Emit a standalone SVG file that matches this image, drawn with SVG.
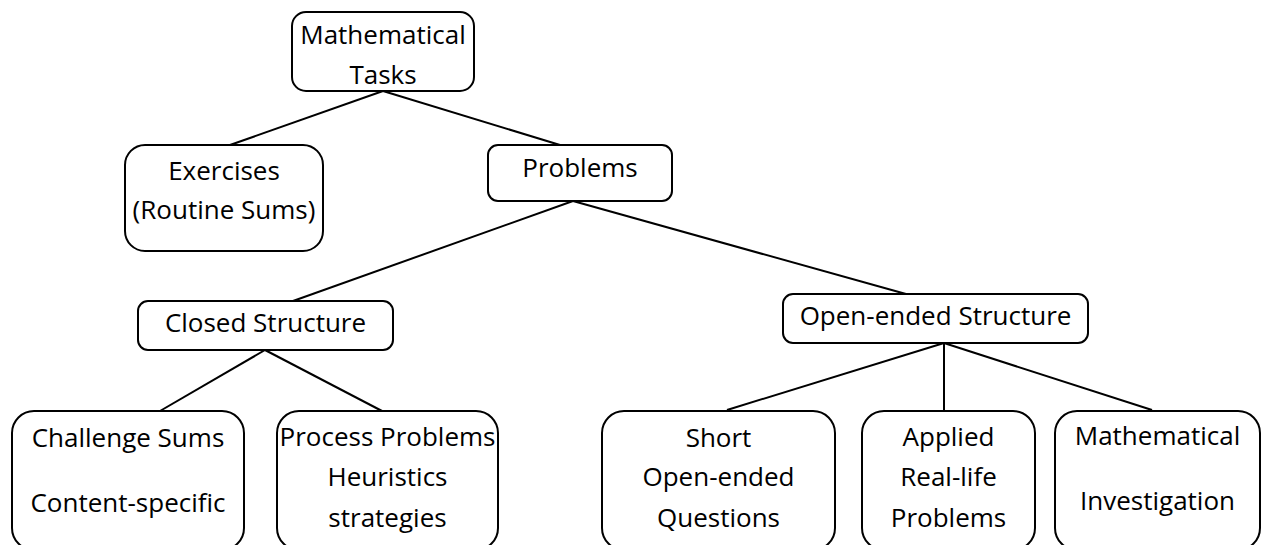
<svg xmlns="http://www.w3.org/2000/svg" width="1262" height="545" viewBox="0 0 1262 545">
  <style>
    .box { fill: #ffffff; stroke: #000000; stroke-width: 2; }
    .edge { stroke: #000000; stroke-width: 2; fill: none; }
    .lbl { font-family: "Open Sans", "Noto Sans", sans-serif; font-size: 26px; fill: #000000; text-anchor: middle; }
  </style>
  <rect width="1262" height="545" fill="#ffffff"/>

  <!-- connectors -->
  <g id="connectors">
    <line class="edge" x1="383" y1="91" x2="230" y2="145"/>
    <line class="edge" x1="383" y1="91" x2="560" y2="145"/>
    <line class="edge" x1="573" y1="201" x2="293" y2="301"/>
    <line class="edge" x1="573" y1="201" x2="906" y2="294"/>
    <line class="edge" x1="265" y1="350" x2="160" y2="411"/>
    <line class="edge" x1="265" y1="350" x2="382" y2="411"/>
    <line class="edge" x1="944" y1="343" x2="727" y2="410"/>
    <line class="edge" x1="944" y1="343" x2="944" y2="411"/>
    <line class="edge" x1="944" y1="343" x2="1152" y2="410"/>
  </g>

  <g id="mathematical-tasks">
    <rect class="box" x="292" y="12" width="182" height="79" rx="14"/>
    <text class="lbl" x="383" y="44">Mathematical</text>
    <text class="lbl" x="383" y="84">Tasks</text>
  </g>

  <g id="exercises">
    <rect class="box" x="125" y="145" width="198" height="106" rx="20"/>
    <text class="lbl" x="224" y="180">Exercises</text>
    <text class="lbl" x="224" y="219">(Routine Sums)</text>
  </g>

  <g id="problems">
    <rect class="box" x="488" y="145" width="184" height="56" rx="10"/>
    <text class="lbl" x="580" y="177">Problems</text>
  </g>

  <g id="closed-structure">
    <rect class="box" x="138" y="301" width="255" height="49" rx="10"/>
    <text class="lbl" x="265.5" y="332">Closed Structure</text>
  </g>

  <g id="open-ended-structure">
    <rect class="box" x="783" y="294" width="305" height="49" rx="10"/>
    <text class="lbl" x="935.5" y="325">Open-ended Structure</text>
  </g>

  <g id="challenge-sums">
    <rect class="box" x="12" y="411" width="232" height="139" rx="22"/>
    <text class="lbl" x="128" y="447">Challenge Sums</text>
    <text class="lbl" x="128" y="512">Content-specific</text>
  </g>

  <g id="process-problems">
    <rect class="box" x="277" y="411" width="221" height="139" rx="22"/>
    <text class="lbl" x="387.5" y="446">Process Problems</text>
    <text class="lbl" x="387.5" y="486">Heuristics</text>
    <text class="lbl" x="387.5" y="527">strategies</text>
  </g>

  <g id="short-open-ended">
    <rect class="box" x="602" y="411" width="233" height="139" rx="22"/>
    <text class="lbl" x="718.5" y="447">Short</text>
    <text class="lbl" x="718.5" y="486">Open-ended</text>
    <text class="lbl" x="718.5" y="527">Questions</text>
  </g>

  <g id="applied-real-life">
    <rect class="box" x="862" y="411" width="173" height="139" rx="22"/>
    <text class="lbl" x="948.5" y="446">Applied</text>
    <text class="lbl" x="948.5" y="486">Real-life</text>
    <text class="lbl" x="948.5" y="527">Problems</text>
  </g>

  <g id="mathematical-investigation">
    <rect class="box" x="1055" y="411" width="205" height="139" rx="22"/>
    <text class="lbl" x="1157.5" y="445">Mathematical</text>
    <text class="lbl" x="1157.5" y="510">Investigation</text>
  </g>
</svg>
